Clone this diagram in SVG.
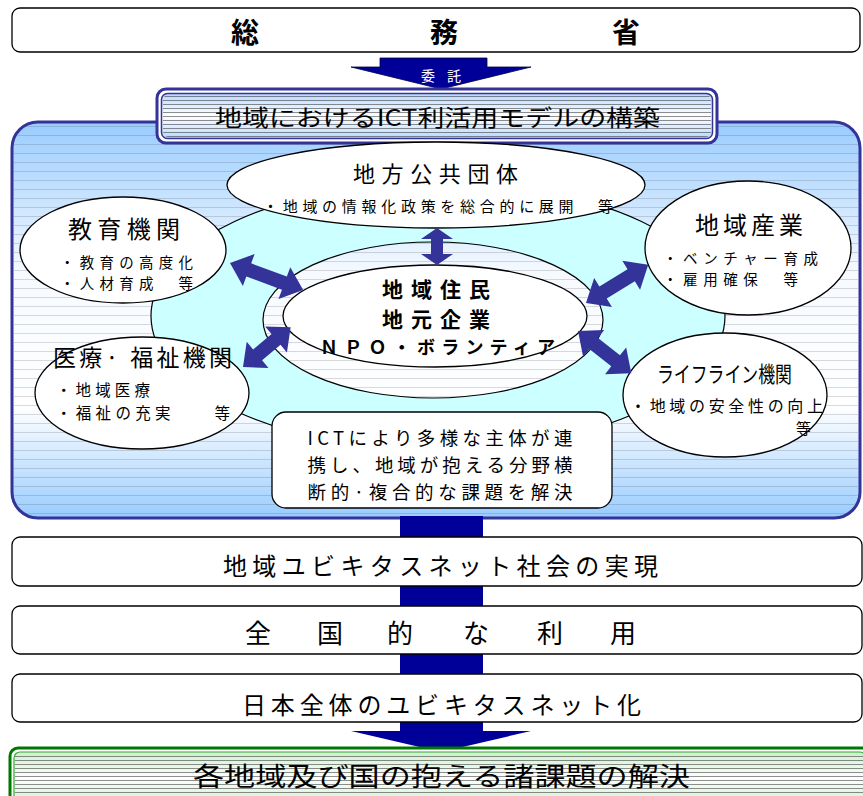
<svg xmlns="http://www.w3.org/2000/svg" width="863" height="796" viewBox="0 0 863 796">
<defs>
<style>
text{font-family:"Noto Sans CJK JP","Noto Sans",sans-serif;fill:#000}
.box{fill:#fff;stroke:#000;stroke-width:1.3}
.ell{fill:#fff;stroke:#000;stroke-width:1.3}
.arr{fill:#333399}
.down{fill:#000099}
</style>
<linearGradient id="mainG" gradientUnits="userSpaceOnUse" x1="0" y1="122" x2="0" y2="518">
<stop offset="0" stop-color="#99ccff"/>
<stop offset="0.38" stop-color="#f6faff"/>
<stop offset="0.72" stop-color="#ffffff"/>
<stop offset="1" stop-color="#99ccff"/>
</linearGradient>
<linearGradient id="titleG" x1="0" y1="0" x2="0" y2="1">
<stop offset="0" stop-color="#b8d8ff"/>
<stop offset="0.5" stop-color="#ffffff"/>
<stop offset="1" stop-color="#b8d8ff"/>
</linearGradient>
<linearGradient id="greenG" x1="0" y1="0" x2="0" y2="1">
<stop offset="0" stop-color="#cfeecf"/>
<stop offset="0.5" stop-color="#ffffff"/>
<stop offset="1" stop-color="#cfeecf"/>
</linearGradient>
<pattern id="hatch" patternUnits="userSpaceOnUse" width="6" height="4">
<line x1="0" y1="0.5" x2="6" y2="0.5" stroke="#333" stroke-width="1" stroke-opacity="0.55"/>
</pattern>
<pattern id="hatchLight" patternUnits="userSpaceOnUse" width="6" height="9">
<line x1="0" y1="0.5" x2="6" y2="0.5" stroke="#444" stroke-width="0.8" stroke-opacity="0.25"/>
</pattern>
</defs>

<!-- top box -->
<g id="soumu">
<rect class="box" x="12" y="8" width="848" height="44" rx="8"/>
<text x="245" y="43" font-size="28" font-weight="bold" text-anchor="middle">総</text>
<text x="444" y="43" font-size="28" font-weight="bold" text-anchor="middle">務</text>
<text x="626" y="43" font-size="28" font-weight="bold" text-anchor="middle">省</text>
</g>

<!-- main box -->
<g id="mainArea">
<rect x="12" y="122" width="848" height="396" rx="26" fill="url(#mainG)" stroke="#333399" stroke-width="3"/>
<rect x="14" y="124" width="844" height="392" rx="24" fill="url(#hatchLight)"/>
<path d="M151,316 A287,134 0 1,0 725,316 A287,134 0 1,0 151,316 Z M263,320 A170,78 0 1,1 603,320 A170,78 0 1,1 263,320 Z" fill="#ccffff" fill-rule="evenodd" stroke="#000" stroke-width="1.2"/>
</g>

<!-- connectors -->
<g id="connectors">
<rect class="down" x="400" y="516" width="83" height="206"/>
<polygon class="down" points="400,720 483,720 483,731 531,731 441,752 351,731 400,731"/>
<polygon class="down" points="380,58 487,58 487,67 531,67 441,89 351,67 380,67" stroke="#000044" stroke-width="0.8"/>
<text x="428" y="81" font-size="14" text-anchor="middle" style="fill:#fff">委</text>
<text x="454" y="81" font-size="14" text-anchor="middle" style="fill:#fff">託</text>
</g>

<!-- title box -->
<g id="title">
<rect x="157" y="89" width="560" height="54" rx="9" fill="#fff" stroke="#333399" stroke-width="3"/>
<rect x="161.5" y="93.5" width="551" height="45" rx="6" fill="url(#titleG)" stroke="#333399" stroke-width="1.5"/>
<rect x="163" y="95" width="548" height="42" rx="5" fill="url(#hatch)"/>
<text x="215" y="126" font-size="23" textLength="445" lengthAdjust="spacingAndGlyphs">地域におけるICT利活用モデルの構築</text>
</g>

<g id="chihou">
<ellipse class="ell" cx="436" cy="185" rx="209" ry="43"/>
<text x="353" y="182" font-size="22" textLength="165">地方公共団体</text>
<text x="263" y="212" font-size="15" textLength="350">・地域の情報化政策を総合的に展開　等</text>
</g>

<g id="kyouiku">
<ellipse class="ell" cx="123" cy="250" rx="103" ry="53"/>
<text x="68" y="238" font-size="24" textLength="112">教育機関</text>
<text x="60" y="268" font-size="14.5" textLength="133">・教育の高度化</text>
<text x="60" y="289" font-size="14.5" textLength="133">・人材育成　等</text>
</g>

<g id="sangyou">
<ellipse class="ell" cx="748" cy="248" rx="103" ry="67"/>
<text x="695" y="234" font-size="24" textLength="108">地域産業</text>
<text x="663" y="264" font-size="14.5" textLength="155">・ベンチャー育成</text>
<text x="663" y="285" font-size="14.5" textLength="135">・雇用確保　等</text>
</g>

<g id="iryou">
<ellipse class="ell" cx="142" cy="393" rx="107" ry="56"/>
<text x="53" y="366" font-size="23" textLength="179">医療·&#160;福祉機関</text>
<text x="56" y="396" font-size="15.5" textLength="94">・地域医療</text>
<text x="56" y="419" font-size="15.5" textLength="174">・福祉の充実　　等</text>
</g>

<g id="lifeline">
<ellipse class="ell" cx="725" cy="395" rx="102" ry="62"/>
<text x="657" y="382" font-size="22" textLength="135" lengthAdjust="spacingAndGlyphs">ライフライン機関</text>
<text x="630" y="412" font-size="16" textLength="193">・地域の安全性の向上</text>
<text x="796" y="434" font-size="15">等</text>
</g>

<g id="center">
<ellipse class="ell" cx="435" cy="316" rx="152" ry="51"/>
<text x="382" y="297" font-size="21" font-weight="bold" textLength="108">地域住民</text>
<text x="382" y="327" font-size="21" font-weight="bold" textLength="108">地元企業</text>
<text x="320" y="354" font-size="18" font-weight="bold" textLength="235">ＮＰＯ・ボランティア</text>
</g>

<g id="arrows">
<path class="arr" transform="translate(437,228) rotate(90)" d="M0,0 L11,-16 L11,-6 L26,-6 L26,-16 L37,0 L26,16 L26,6 L11,6 L11,16 Z"/>
<path class="arr" transform="translate(230,263) rotate(20.3)" d="M0,0 L20,-17 L20,-7 L58,-7 L58,-17 L78,0 L58,17 L58,7 L20,7 L20,17 Z"/>
<path class="arr" transform="translate(586,303) rotate(-31.5)" d="M0,0 L20,-17 L20,-7 L53,-7 L53,-17 L73,0 L53,17 L53,7 L20,7 L20,17 Z"/>
<path class="arr" transform="translate(243,367) rotate(-39.8)" d="M0,0 L19,-17 L19,-7 L43,-7 L43,-17 L62,0 L43,17 L43,7 L19,7 L19,17 Z"/>
<path class="arr" transform="translate(578,331) rotate(38.4)" d="M0,0 L20,-17 L20,-7 L48,-7 L48,-17 L68,0 L48,17 L48,7 L20,7 L20,17 Z"/>
</g>

<g id="ictBox">
<rect class="box" x="272" y="412" width="340" height="96" rx="14"/>
<text x="440" y="445" font-size="18.5" text-anchor="middle" textLength="265">ICTにより多様な主体が連</text>
<text x="440" y="472" font-size="18.5" text-anchor="middle" textLength="265">携し、地域が抱える分野横</text>
<text x="440" y="499" font-size="18.5" text-anchor="middle" textLength="265">断的·複合的な課題を解決</text>
</g>

<g id="jitsugen">
<rect class="box" x="12" y="537" width="850" height="49" rx="8"/>
<text x="223" y="575" font-size="24" textLength="435">地域ユビキタスネット社会の実現</text>
</g>

<g id="zenkoku">
<rect class="box" x="12" y="606" width="850" height="48" rx="8"/>
<text x="258" y="643" font-size="26" text-anchor="middle">全</text>
<text x="330" y="643" font-size="26" text-anchor="middle">国</text>
<text x="400" y="643" font-size="26" text-anchor="middle">的</text>
<text x="476" y="643" font-size="26" text-anchor="middle">な</text>
<text x="550" y="643" font-size="26" text-anchor="middle">利</text>
<text x="623" y="643" font-size="26" text-anchor="middle">用</text>
</g>

<g id="nihon">
<rect class="box" x="12" y="674" width="850" height="48" rx="8"/>
<text x="242" y="714" font-size="24" textLength="399">日本全体のユビキタスネット化</text>
</g>

<g id="kaiketsu">
<rect x="10" y="748" width="860" height="60" rx="8" fill="#fff" stroke="#007700" stroke-width="3"/>
<rect x="14" y="752" width="852" height="52" rx="6" fill="url(#greenG)" stroke="#33aa33" stroke-width="1.2"/>
<rect x="15" y="753" width="850" height="50" fill="url(#hatch)"/>
<text x="193" y="786" font-size="26" textLength="497" lengthAdjust="spacingAndGlyphs">各地域及び国の抱える諸課題の解決</text>
</g>
</svg>
